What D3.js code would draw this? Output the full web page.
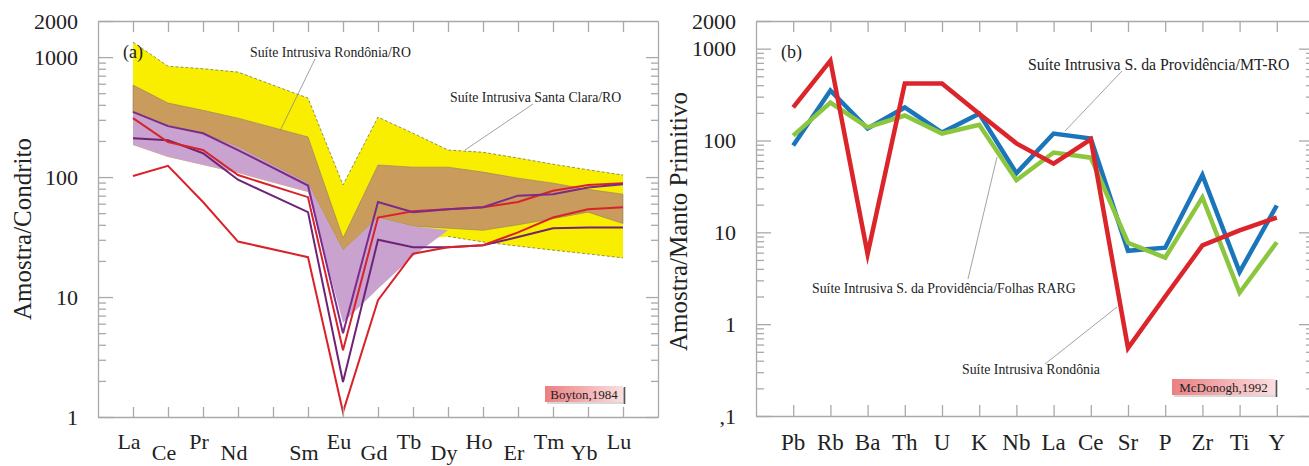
<!DOCTYPE html>
<html><head><meta charset="utf-8">
<script src="https://cdn.jsdelivr.net/npm/d3@7"></script>
<style>
body{margin:0;background:#fff}
svg{display:block}
text{font-family:"Liberation Serif","Times New Roman",serif;fill:#222}
</style>
</head><body>
<svg id="c" width="1309" height="466" font-family="Liberation Serif, Times New Roman, serif"></svg>
<script>
// ---------- DATA: panel (a) chondrite-normalised REE ----------
const reeTicks = ["La","Ce","Pr","Nd","Pm","Sm","Eu","Gd","Tb","Dy","Ho","Er","Tm","Yb","Lu"];
const reeLabels = ["La","Ce","Pr","Nd","","Sm","Eu","Gd","Tb","Dy","Ho","Er","Tm","Yb","Lu"];
const reeElements = ["La","Ce","Pr","Nd","Sm","Eu","Gd","Tb","Dy","Ho","Er","Tm","Yb","Lu"];
// Suíte Intrusiva Rondônia/RO field (yellow)
const rondoniaFieldUpper = [1333, 840, 800, 750, 455, 86, 316, 232, 168, 161, 144, 128, 115, 104];
const rondoniaFieldLower = [185, 147, 126, 108, 75, 24.6, 30, 30, 32, 28.8, 26.6, 24.6, 22.9, 21.2];
// Suíte Intrusiva Santa Clara/RO field (brown)
const santaClaraUpper = [585, 414, 360, 310, 216, 31, 126, 121, 121, 110, 98, 89, 79, 72];
const santaClaraLower = [341, 271, 232, 178, 89, 24.6, 46, 39, 37.5, 36, 40, 45, 51, 41];
// lavender field (La..Dy)
const lavenderElements = ["La","Ce","Pr","Nd","Sm","Eu","Gd","Tb","Dy"];
const lavenderUpper = [341, 271, 232, 178, 89, 24.6, 46, 39, 36];
const lavenderLower = [185, 147, 126, 108, 75, 6.1, 11.7, 21.9, 36];
// individual samples
const samplePurpleA = [350, 266, 232, 168, 85, 5.0, 62, 51, 54, 56, 70, 72, 82, 87];
const sampleRedB    = [310, 196, 168, 104, 68, 3.6, 46, 52, 54, 56, 62, 77, 86, 89];
const samplePurpleC = [211, 203, 158, 95, 51, 1.96, 30, 26, 26, 27, 31.6, 37.5, 38, 38];
const sampleRedD    = [102, 124, 62, 29, 21.5, 1.1, 9.4, 23, 26, 27, 34.6, 46, 54, 56];
const reeYTicks = [1, 10, 100, 1000, 2000];

// ---------- DATA: panel (b) primitive-mantle spider ----------
const spiderElements = ["Pb","Rb","Ba","Th","U","K","Nb","La","Ce","Sr","P","Zr","Ti","Y"];
const providenciaMTRO = [88, 350, 135, 229, 122, 196, 44, 119, 105, 6.3, 6.8, 42, 3.7, 19.6];
const providenciaRARG = [113, 259, 139, 187, 119, 148, 37, 74, 65, 7.7, 5.3, 24, 2.2, 7.8];
const rondoniaSuite   = [229, 740, 5.8, 417, 417, 196, 93, 56, 103, 0.55, 2.0, 7.2, 10.5, 14.5];
const spiderYTicks = [0.1, 1, 10, 100, 1000, 2000];

// ---------- helpers ----------
const svg = d3.select("#c");
const axisColor = "#a9a9a9";
const SERIF = "Liberation Serif, Times New Roman, serif";
function minorTicks(lo, hi){
  const out=[];
  for(let e=Math.floor(Math.log10(lo)); e<=Math.ceil(Math.log10(hi)); e++){
    for(let m=2;m<=9;m++){const v=m*Math.pow(10,e); if(v>lo && v<hi) out.push(v);}
  }
  return out;
}
function styleAxis(g){
  g.attr("font-family",SERIF);
  g.selectAll("path,line").attr("stroke",axisColor).attr("stroke-width",1.3);
  g.selectAll("text").attr("fill","#222");
}
function pinkBox(g, x, y, w, h, label, id){
  const grad = svg.append("defs").append("linearGradient").attr("id",id);
  grad.append("stop").attr("offset","0%").attr("stop-color","#ec7f82");
  grad.append("stop").attr("offset","100%").attr("stop-color","#fbdede");
  g.append("rect").attr("x",x+2).attr("y",y+2).attr("width",w).attr("height",h).attr("fill","#d8d8d8");
  g.append("line").attr("x1",x+w+1.5).attr("x2",x+w+1.5).attr("y1",y+1).attr("y2",y+h+2).attr("stroke","#555").attr("stroke-width",1.6);
  g.append("rect").attr("x",x).attr("y",y).attr("width",w).attr("height",h).attr("fill",`url(#${id})`);
  g.append("text").attr("x",x+w/2).attr("y",y+h/2).attr("dy","0.35em").attr("text-anchor","middle")
    .attr("font-size",13).text(label);
}

// =================== PANEL (a) ===================
const A = {x0:98, x1:658, y0:21, y1:417};
const xA = d3.scalePoint().domain(reeTicks).range([A.x0, A.x1]).padding(1);
const yA = d3.scaleLog().domain([1,2000]).range([A.y1, A.y0]);
const gA = svg.append("g");

function band(elems, up, lo){ return elems.map((e,i)=>({e, u:up[i], l:lo[i]})); }
const areaA = d3.area().x(d=>xA(d.e)).y0(d=>yA(d.l)).y1(d=>yA(d.u));
const lineA = d3.line().x(d=>xA(d.e)).y(d=>yA(d.v));

const yellowBand = band(reeElements, rondoniaFieldUpper, rondoniaFieldLower);
gA.append("path").attr("d",areaA(yellowBand)).attr("fill","#f9ee00");
const brownBand = band(reeElements, santaClaraUpper, santaClaraLower);
gA.append("path").attr("d",areaA(brownBand)).attr("fill","#c99b5c").attr("stroke","#8f8262").attr("stroke-width",0.6);
const lavBand = band(lavenderElements, lavenderUpper, lavenderLower);
gA.append("path").attr("d",areaA(lavBand)).attr("fill","#c9a2cf");
// dashed yellow outline (upper edge, right part of lower edge)
const upLine = d3.line().x(d=>xA(d.e)).y(d=>yA(d.u));
const loLine = d3.line().x(d=>xA(d.e)).y(d=>yA(d.l));
gA.append("path").attr("d",upLine(yellowBand)).attr("fill","none").attr("stroke","#7a7a40").attr("stroke-width",0.8).attr("stroke-dasharray","3,2");
gA.append("path").attr("d",loLine(yellowBand.slice(8))).attr("fill","none").attr("stroke","#7a7a40").attr("stroke-width",0.8).attr("stroke-dasharray","3,2");

const samplesA = [
  {vals:samplePurpleC, color:"#6e2377"},
  {vals:sampleRedD, color:"#d8232a"},
  {vals:sampleRedB, color:"#d8232a"},
  {vals:samplePurpleA, color:"#7b2b8c"}
];
samplesA.forEach(s=>{
  gA.append("path").attr("d",lineA(reeElements.map((e,i)=>({e,v:s.vals[i]}))))
    .attr("fill","none").attr("stroke",s.color).attr("stroke-width",2).attr("stroke-linejoin","miter");
});

// axes
const aLeft = gA.append("g").attr("transform",`translate(${A.x0},0)`)
  .call(d3.axisLeft(yA).tickValues(reeYTicks).tickFormat(d3.format("d")).tickSizeInner(-15).tickSizeOuter(0).tickPadding(20));
aLeft.selectAll("text").attr("font-size",22);
styleAxis(aLeft);
const aLeftMin = gA.append("g").attr("transform",`translate(${A.x0},0)`)
  .call(d3.axisLeft(yA).tickValues(minorTicks(1,2000)).tickFormat("").tickSizeInner(-8).tickSizeOuter(0));
styleAxis(aLeftMin); aLeftMin.select(".domain").remove();
const aRight = gA.append("g").attr("transform",`translate(${A.x1},0)`)
  .call(d3.axisRight(yA).tickValues(reeYTicks.slice(0,4)).tickFormat("").tickSizeInner(-12).tickSizeOuter(0));
styleAxis(aRight);
const aRightMin = gA.append("g").attr("transform",`translate(${A.x1},0)`)
  .call(d3.axisRight(yA).tickValues(minorTicks(1,2000)).tickFormat("").tickSizeInner(-7).tickSizeOuter(0));
styleAxis(aRightMin); aRightMin.select(".domain").remove();
const aTop = gA.append("g").attr("transform",`translate(0,${A.y0})`)
  .call(d3.axisTop(xA).tickFormat("").tickSizeInner(-11).tickSizeOuter(0));
styleAxis(aTop);
const aBot = gA.append("g").attr("transform",`translate(0,${A.y1})`)
  .call(d3.axisBottom(xA).tickFormat("").tickSizeInner(-10).tickSizeOuter(0));
styleAxis(aBot);
// staggered element labels
gA.selectAll("text.ree").data(reeTicks).enter().append("text")
  .attr("x",d=>xA(d)-4).attr("y",(d,i)=> i%2===0 ? 449 : 460)
  .attr("text-anchor","middle").attr("font-size",22)
  .text((d,i)=>reeLabels[i]);
// title
gA.append("text").attr("transform",`translate(31,${(A.y0+A.y1)/2+10}) rotate(-90)`)
  .attr("text-anchor","middle").attr("font-size",25).text("Amostra/Condrito");
// annotations
gA.append("text").attr("x",123).attr("y",58).attr("font-size",18).text("(a)");
gA.append("line").attr("x1",315).attr("y1",59).attr("x2",280).attr("y2",131).attr("stroke","#8a8a8a").attr("stroke-width",0.8);
gA.append("text").attr("x",250).attr("y",57).attr("font-size",13.8).text("Suíte Intrusiva Rondônia/RO");
gA.append("line").attr("x1",533).attr("y1",104).attr("x2",465).attr("y2",150).attr("stroke","#8a8a8a").attr("stroke-width",0.8);
gA.append("text").attr("x",450).attr("y",102).attr("font-size",13.8).text("Suíte Intrusiva Santa Clara/RO");
pinkBox(gA, 545, 386, 78, 16, "Boyton,1984", "gradA");

// =================== PANEL (b) ===================
const B = {x0:756, x1:1314, y0:21, y1:416};
const xB = d3.scalePoint().domain(spiderElements).range([B.x0, B.x1]).padding(1);
const yB = d3.scaleLog().domain([0.1,2000]).range([B.y1, B.y0]);
const gB = svg.append("g");
const lineB = d3.line().x(d=>xB(d.e)).y(d=>yB(d.v));
const seriesB = [
  {vals:providenciaMTRO, color:"#1b75bb"},
  {vals:providenciaRARG, color:"#8cc63f"},
  {vals:rondoniaSuite, color:"#dc242b"}
];
seriesB.forEach(s=>{
  gB.append("path").attr("d",lineB(spiderElements.map((e,i)=>({e,v:s.vals[i]}))))
    .attr("fill","none").attr("stroke",s.color).attr("stroke-width",4.5).attr("stroke-linejoin","miter").attr("stroke-miterlimit",10);
});
const bLeft = gB.append("g").attr("transform",`translate(${B.x0},0)`)
  .call(d3.axisLeft(yB).tickValues(spiderYTicks).tickFormat(d=> d<1 ? ",1" : d3.format("d")(d)).tickSizeInner(-15).tickSizeOuter(0).tickPadding(20));
bLeft.selectAll("text").attr("font-size",22);
styleAxis(bLeft);
const bLeftMin = gB.append("g").attr("transform",`translate(${B.x0},0)`)
  .call(d3.axisLeft(yB).tickValues(minorTicks(0.1,2000)).tickFormat("").tickSizeInner(-8).tickSizeOuter(0));
styleAxis(bLeftMin); bLeftMin.select(".domain").remove();
const bRight = gB.append("g").attr("transform",`translate(${B.x1},0)`)
  .call(d3.axisRight(yB).tickValues(spiderYTicks.slice(0,5)).tickFormat("").tickSizeInner(-15).tickSizeOuter(0));
styleAxis(bRight);
const bRightMin = gB.append("g").attr("transform",`translate(${B.x1},0)`)
  .call(d3.axisRight(yB).tickValues(minorTicks(0.1,2000)).tickFormat("").tickSizeInner(-8).tickSizeOuter(0));
styleAxis(bRightMin); bRightMin.select(".domain").remove();
const bTop = gB.append("g").attr("transform",`translate(0,${B.y0})`)
  .call(d3.axisTop(xB).tickFormat("").tickSizeInner(-11).tickSizeOuter(0));
styleAxis(bTop);
const bBot = gB.append("g").attr("transform",`translate(0,${B.y1})`)
  .call(d3.axisBottom(xB).tickFormat("").tickSizeInner(-11).tickSizeOuter(0));
styleAxis(bBot);
gB.selectAll("text.sp").data(spiderElements).enter().append("text")
  .attr("x",d=>xB(d)).attr("y",450).attr("text-anchor","middle").attr("font-size",23).text(d=>d);
gB.append("text").attr("transform",`translate(687,${(B.y0+B.y1)/2+3}) rotate(-90)`)
  .attr("text-anchor","middle").attr("font-size",25).text("Amostra/Manto Primitivo");
gB.append("text").attr("x",781).attr("y",58).attr("font-size",18).text("(b)");
gB.append("line").attr("x1",1122).attr("y1",71).attr("x2",1065).attr("y2",131).attr("stroke","#8a8a8a").attr("stroke-width",0.8);
gB.append("text").attr("x",1028).attr("y",70).attr("font-size",15.8).text("Suíte Intrusiva S. da Providência/MT-RO");
gB.append("line").attr("x1",968).attr("y1",279).attr("x2",997).attr("y2",157).attr("stroke","#8a8a8a").attr("stroke-width",0.8);
gB.append("text").attr("x",812).attr("y",293).attr("font-size",13.8).text("Suíte Intrusiva S. da Providência/Folhas RARG");
gB.append("line").attr("x1",1045).attr("y1",364).attr("x2",1117).attr("y2",307).attr("stroke","#8a8a8a").attr("stroke-width",0.8);
gB.append("text").attr("x",962).attr("y",374).attr("font-size",13.8).text("Suíte Intrusiva Rondônia");
pinkBox(gB, 1172, 379, 103, 16, "McDonogh,1992", "gradB");
</script>
</body></html>
